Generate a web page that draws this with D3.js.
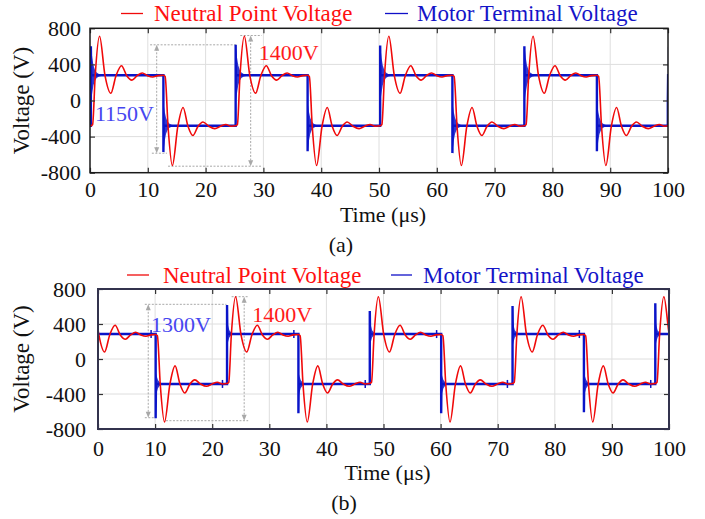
<!DOCTYPE html>
<html>
<head>
<meta charset="utf-8">
<script src="https://d3js.org/d3.v7.min.js"></script>
<style>
body { margin: 0; background: #fff; }
svg { display: block; font-family: "Liberation Serif", "Times New Roman", serif; }
.grid line { stroke: #dedede; stroke-width: 1; }
.axis path { display: none; }
.axis line { stroke: #333; stroke-width: 1.2; }
.axis text { font-size: 22px; fill: #111; font-family: "Liberation Serif", "Times New Roman", serif; }
.note { stroke: #a8a8a8; stroke-width: 1; stroke-dasharray: 2,1.5; fill: none; }
</style>
</head>
<body>
<div id="plot"></div>
<script>
// tick values
var tickX = [0, 10, 20, 30, 40, 50, 60, 70, 80, 90, 100];
var tickY = [-800, -400, 0, 400, 800];

// switching instants (us), first one is a rising edge
var edgesA = [0.15, 12.7, 25.2, 37.65, 50.2, 62.7, 75.15, 87.7, 99.97];
var edgesB = [-2.3, 10.1, 22.6, 35.1, 47.6, 60.1, 72.6, 85.1, 97.6];

// overshoot of the motor terminal voltage at each edge (V)
var spikeA = [600, -572, 617, -561, 609, -583, 601, -561, 0];
var spikeB = [620, -678, 617, -621, 549, -621, 606, -609, 636];

// flat levels of motor terminal voltage [low, high]
var levelA = [-280, 280];
var levelB = [-285, 285];

// neutral point response after an edge: [time after edge, V]
var redRise = [[0, -280], [0.3, -266], [0.75, 275], [1.5, 712], [2.45, 275], [3.45, 80],
  [4.35, 275], [5.3, 385], [6.2, 275], [7.1, 226], [8.0, 275], [8.9, 305], [9.8, 275],
  [10.7, 260], [11.6, 276]];
var redFall = [[0, 280], [0.3, 266], [0.8, -285], [1.55, -720], [2.5, -285], [3.4, -78],
  [4.25, -285], [5.1, -388], [6.0, -285], [6.85, -238], [7.85, -285], [8.9, -312],
  [9.9, -285], [10.8, -266], [11.7, -285]];

// ringing band of motor terminal voltage: [time after edge, upper V, lower V]
var ringRiseA = [[0, 600, -20], [0.1, 560, 20], [0.25, 470, 90], [0.45, 390, 170], [0.7, 340, 220],
  [1.0, 310, 250], [1.4, 295, 265], [2.0, 285, 275]];
var ringFallA = [[0, -30, -560], [0.1, -60, -520], [0.25, -130, -440], [0.45, -190, -370],
  [0.7, -230, -330], [1.0, -255, -305], [1.4, -270, -292], [2.0, -278, -283]];
var ringRiseB = [[0.03, 450, 150], [0.2, 380, 200], [0.4, 330, 245], [0.7, 305, 268],
  [1.0, 295, 278], [1.5, 288, 283]];
var ringFallB = [[0.03, -150, -440], [0.2, -200, -380], [0.4, -240, -335], [0.7, -265, -305],
  [1.0, -276, -295], [1.5, -283, -288]];

// small markers on the blue trace of (b)
var markB = [[9.3, 285], [21.8, -285], [34.3, 285], [46.8, -285], [59.3, 285], [71.7, -285],
  [84.3, 285], [96.8, -285]];

var width = 705, height = 519;
var svg = d3.select("#plot").append("svg").attr("width", width).attr("height", height);
svg.append("rect").attr("width", width).attr("height", height).attr("fill", "#fff");

function buildRed(edges) {
  var pts = [[-3, -280]];
  edges.forEach(function (te, i) {
    var tpl = i % 2 === 0 ? redRise : redFall;
    var gap = i < edges.length - 1 ? edges[i + 1] - te : 20;
    tpl.forEach(function (p) { if (p[0] < gap) pts.push([te + p[0], p[1]]); });
  });
  return pts;
}

function buildBlue(edges, spikes, levels) {
  var pts = [[-3, levels[0]]];
  edges.forEach(function (te, i) {
    var rise = i % 2 === 0;
    var prev = rise ? levels[0] : levels[1];
    var next = rise ? levels[1] : levels[0];
    pts.push([te, prev], [te, spikes[i]], [te + 0.05, next]);
  });
  pts.push([110, edges.length % 2 ? levels[1] : levels[0]]);
  return pts;
}

function drawPanel(p) {
  var g = svg.append("g");
  var x = d3.scaleLinear().domain([0, 100]).range([p.left, p.right]);
  var y = d3.scaleLinear().domain([-800, 800]).range([p.bottom, p.top]);

  svg.append("clipPath").attr("id", "clip" + p.id).append("rect")
    .attr("x", p.left).attr("y", p.top)
    .attr("width", p.right - p.left).attr("height", p.bottom - p.top);

  // grid
  var grid = g.append("g").attr("class", "grid");
  grid.selectAll(".gx").data(tickX.slice(1, -1)).enter().append("line")
    .attr("x1", d => x(d)).attr("x2", d => x(d)).attr("y1", p.top).attr("y2", p.bottom);
  grid.selectAll(".gy").data(tickY.slice(1, -1)).enter().append("line")
    .attr("y1", d => y(d)).attr("y2", d => y(d)).attr("x1", p.left).attr("x2", p.right);

  // dotted measurement lines
  var notes = g.append("g");
  p.notes.forEach(function (n) {
    notes.append("line").attr("class", "note")
      .attr("x1", x(n.top[0])).attr("x2", x(n.top[1])).attr("y1", y(n.v1)).attr("y2", y(n.v1));
    notes.append("line").attr("class", "note")
      .attr("x1", x(n.bot[0])).attr("x2", x(n.bot[1])).attr("y1", y(n.v0)).attr("y2", y(n.v0));
    notes.append("line").attr("class", "note")
      .attr("x1", x(n.t)).attr("x2", x(n.t)).attr("y1", y(n.v1) + 4).attr("y2", y(n.v0) - 4);
    [[y(n.v1), 1], [y(n.v0), -1]].forEach(function (a) {
      var xs = x(n.t), ys = a[0], s = a[1];
      notes.append("path")
        .attr("d", "M" + xs + "," + ys + "L" + (xs - 2.5) + "," + (ys + 6 * s) + "L" + (xs + 2.5) + "," + (ys + 6 * s) + "Z")
        .attr("fill", "#a8a8a8");
    });
  });

  var plot = g.append("g").attr("clip-path", "url(#clip" + p.id + ")");

  // ringing bands
  var band = d3.area().x(d => x(d[0])).y0(d => y(d[2])).y1(d => y(d[1]));
  p.edges.forEach(function (te, i) {
    var tpl = i % 2 === 0 ? p.ringRise : p.ringFall;
    plot.append("path")
      .attr("d", band(tpl.map(d => [te + d[0], d[1], d[2]])))
      .attr("fill", "#0a14c8").attr("fill-opacity", 0.85);
  });

  var line = d3.line().x(d => x(d[0])).y(d => y(d[1]));
  plot.append("path").attr("d", line(buildBlue(p.edges, p.spikes, p.levels)))
    .attr("fill", "none").attr("stroke", "#0a14c8").attr("stroke-width", 2.4)
    .attr("stroke-linejoin", "miter");

  if (p.marks) {
    plot.selectAll(".mk").data(p.marks).enter().append("line")
      .attr("x1", d => x(d[0])).attr("x2", d => x(d[0]))
      .attr("y1", d => y(d[1]) - 4).attr("y2", d => y(d[1]) + 4)
      .attr("stroke", "#0a14c8").attr("stroke-width", 1.5);
  }

  var redLine = d3.line().x(d => x(d[0])).y(d => y(d[1])).curve(d3.curveMonotoneX);
  plot.append("path").attr("d", redLine(buildRed(p.edges)))
    .attr("fill", "none").attr("stroke", "#f00a0a").attr("stroke-width", 1.6);

  // axes with inward ticks
  var fmt = d => String(d);
  g.append("g").attr("class", "axis").attr("transform", "translate(0," + p.bottom + ")")
    .call(d3.axisBottom(x).tickValues(tickX).tickSize(-5).tickPadding(p.xpad).tickFormat(fmt));
  g.append("g").attr("class", "axis").attr("transform", "translate(0," + p.top + ")")
    .call(d3.axisTop(x).tickValues(tickX).tickSize(-5).tickFormat(""));
  g.append("g").attr("class", "axis").attr("transform", "translate(" + p.left + ",0)")
    .call(d3.axisLeft(y).tickValues(tickY).tickSize(-5).tickPadding(p.ypad).tickFormat(fmt));
  g.append("g").attr("class", "axis").attr("transform", "translate(" + p.right + ",0)")
    .call(d3.axisRight(y).tickValues(tickY).tickSize(-5).tickFormat(""));

  g.append("rect").attr("x", p.left).attr("y", p.top)
    .attr("width", p.right - p.left).attr("height", p.bottom - p.top)
    .attr("fill", "none").attr("stroke", p.frame).attr("stroke-width", p.frameW);

  // annotation labels
  p.notes.forEach(function (n) {
    g.append("text").attr("x", x(n.lt)).attr("y", y(n.lv)).text(n.label)
      .attr("fill", n.color).style("font-size", "22px");
  });

  // legend
  var lg = p.legend;
  g.append("line").attr("x1", lg.r[0]).attr("x2", lg.r[1]).attr("y1", lg.ly).attr("y2", lg.ly)
    .attr("stroke", "#f00a0a").attr("stroke-width", 1.3);
  g.append("text").attr("x", lg.r[2]).attr("y", lg.ty).text("Neutral Point Voltage")
    .attr("fill", "#ff1010").style("font-size", "23px");
  g.append("line").attr("x1", lg.b[0]).attr("x2", lg.b[1]).attr("y1", lg.ly).attr("y2", lg.ly)
    .attr("stroke", "#1010c8").attr("stroke-width", 1.3);
  g.append("text").attr("x", lg.b[2]).attr("y", lg.ty).text("Motor Terminal Voltage")
    .attr("fill", "#1414c8").style("font-size", "23px");

  // axis titles and caption
  g.append("text").attr("x", (p.left + p.right) / 2 + 4).attr("y", p.bottom + p.titleDy)
    .attr("text-anchor", "middle").style("font-size", "22px").attr("fill", "#111")
    .text("Time (\u03bcs)");
  g.append("text").attr("transform", "translate(" + p.ylabX + "," + (p.top + p.bottom) / 2 + ") rotate(-90)")
    .attr("text-anchor", "middle").style("font-size", "23px").attr("fill", "#111")
    .text("Voltage (V)");
  g.append("text").attr("x", p.capX).attr("y", p.capY).attr("text-anchor", "middle")
    .style("font-size", "22px").attr("fill", "#111").text(p.caption);
}

drawPanel({
  id: "a", left: 90, right: 668, top: 28.3, bottom: 172.7,
  edges: edgesA, spikes: spikeA, levels: levelA,
  ringRise: ringRiseA, ringFall: ringFallA,
  frame: "#1a1a1a", frameW: 1.5, xpad: 9, ypad: 9,
  titleDy: 49.5, ylabX: 29, capX: 341, capY: 252, caption: "(a)",
  legend: { r: [121, 143, 154], b: [385, 408, 417], ly: 13.5, ty: 21 },
  notes: [
    { t: 11.54, v0: -584, v1: 617, top: [10.4, 25.3], bot: [10.7, 13.3],
      label: "1150V", lt: 0.85, lv: -225, color: "#4646f0" },
    { t: 27.8, v0: -728, v1: 720, top: [26.0, 29.7], bot: [13.5, 29.7],
      label: "1400V", lt: 29.2, lv: 454, color: "#ff1a1a" }
  ]
});

drawPanel({
  id: "b", left: 98, right: 669, top: 289, bottom: 429,
  edges: edgesB, spikes: spikeB, levels: levelB,
  ringRise: ringRiseB, ringFall: ringFallB, marks: markB,
  frame: "#33334d", frameW: 2, xpad: 11, ypad: 12,
  titleDy: 51, ylabX: 29, capX: 344, capY: 510, caption: "(b)",
  legend: { r: [127, 149, 163], b: [391, 412, 423], ly: 275, ty: 283 },
  notes: [
    { t: 8.8, v0: -671, v1: 625, top: [8.2, 22.5], bot: [8.2, 10.0],
      label: "1300V", lt: 9.3, lv: 309, color: "#4646f0" },
    { t: 25.6, v0: -705, v1: 712, top: [23.4, 26.3], bot: [11.9, 26.3],
      label: "1400V", lt: 27.0, lv: 423, color: "#ff1a1a" }
  ]
});
</script>
</body>
</html>
